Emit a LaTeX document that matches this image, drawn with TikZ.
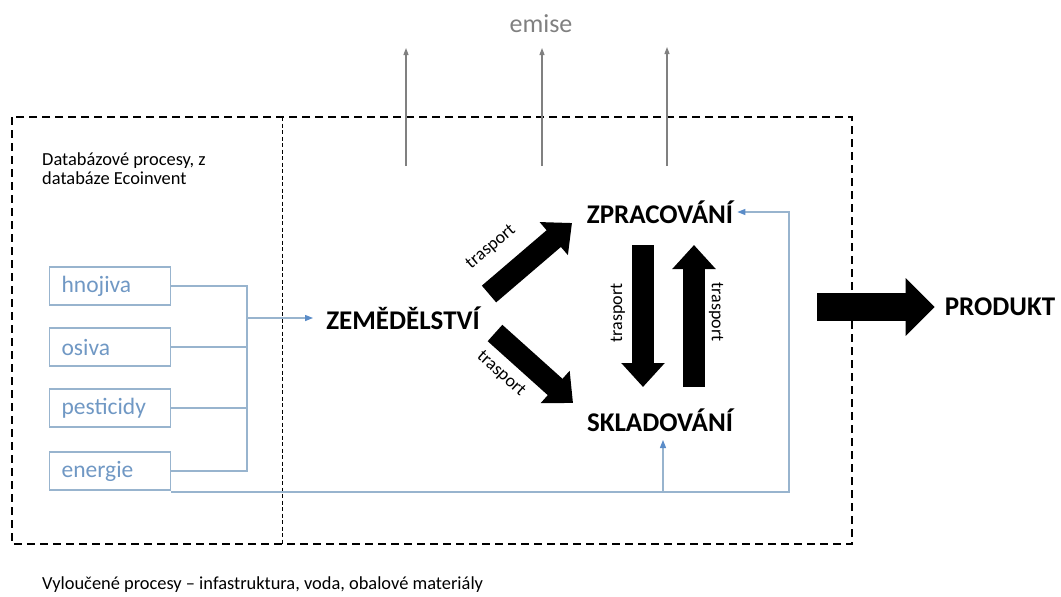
\documentclass[tikz,border=0pt]{standalone}
\usepackage{fontspec}
\setmainfont{Carlito}
\usepackage{tikz}
\usetikzlibrary{positioning}
\usetikzlibrary{arrows.meta,calc}

\definecolor{lineblue}{RGB}{152,180,206}
\definecolor{tipblue}{RGB}{90,140,200}
\definecolor{textblue}{RGB}{112,152,196}
\definecolor{emisgray}{RGB}{128,128,128}

\tikzset{
	inbox/.style={draw=lineblue, line width=1.2pt, anchor=west,
		minimum height=38pt, text width=97pt, inner xsep=12pt, inner ysep=0pt,
		align=left, text=textblue, font=\fontsize{23.5}{26}\selectfont},
	stage/.style={inner sep=0pt, font=\fontsize{27}{30}\selectfont\bfseries},
	wire/.style={draw=lineblue, line width=1.2pt},
	feed/.style={wire, -{Triangle[length=8pt,width=6pt,color=tipblue]}},
	block/.style={line width=22pt, -{Triangle[length=24pt,width=42pt]}},
	emis/.style={draw=emisgray, line width=1.1pt, -{Triangle[length=7pt,width=5pt]}},
	lbl/.style={inner sep=0pt, font=\fontsize{18}{20}\selectfont},
	note/.style={inner sep=0pt, anchor=west, align=left, font=\fontsize{18.4}{19}\selectfont}
}

\begin{document}
\begin{tikzpicture}[x=1pt, y=-1pt]
	\useasboundingbox (0,0) rectangle (1061,597);

	%System boundary
	\draw[line width=2pt, dash pattern=on 8pt off 5pt] (12,117) rectangle (852,544);
	\draw[line width=1pt, dash pattern=on 4pt off 2.5pt] (282,117) -- (282,544);

	\node[note] (Db) at (42,169) {Databázové procesy, z\\databáze Ecoinvent};
	\node[note] (Excl) at (42,585) {Vyloučené procesy – infastruktura, voda, obalové materiály};

	%Inputs
	\node[inbox] (Hno) at (49,286) {hnojiva};
	\node[inbox] (Osi) at (49,347) {osiva};
	\node[inbox] (Pes) at (49,408) {pesticidy};
	\node[inbox] (Ene) at (49,471) {energie};

	%Stages
	\node[stage] (Zem) at (403,318) {ZEMĚDĚLSTVÍ};
	\node[stage] (Zpr) at (660,212) {ZPRACOVÁNÍ};
	\node[stage] (Skl) at (660,420) {SKLADOVÁNÍ};
	\node[stage] (Prod) at (1000,307) {PRODUKT};

	%Input bus
	\coordinate (BusT) at (247,286);
	\coordinate (BusB) at (247,471);
	\coordinate (BusM) at (247,318);
	\draw[wire] (Hno.east) -- (BusT) -- (BusB) -- (Ene.east);
	\draw[wire] (Osi.east) -- (Osi.east -| BusT);
	\draw[wire] (Pes.east) -- (Pes.east -| BusT);
	\draw[feed] (BusM) -- ([xshift=-13pt]Zem.west);

	%Energy loop
	\coordinate (Loop) at (789,492);
	\coordinate (SklTip) at (663,440);
	\draw[feed] (Ene.south east |- Loop) -- (Loop) |- ([xshift=4pt]Zpr.east);
	\draw[feed] (SklTip |- Loop) -- (SklTip);

	%Transport arrows
	\coordinate (T1s) at (489,294);  \coordinate (T1e) at (572,223);
	\coordinate (T2s) at (495,333);  \coordinate (T2e) at (573,403);
	\coordinate (T3s) at (643,245);  \coordinate (T3e) at (643,387);
	\coordinate (T4s) at (694,387);  \coordinate (T4e) at (694,245);
	\draw[block] (T1s) -- (T1e);
	\draw[block] (T2s) -- (T2e);
	\draw[block] (T3s) -- (T3e);
	\draw[block] (T4s) -- (T4e);
	\node[lbl, rotate=40] (L1) at (491,247) {trasport};
	\node[lbl, rotate=-42] (L2) at (501,374) {trasport};
	\node[lbl, rotate=90] (L3) at (618,313) {trasport};
	\node[lbl, rotate=-90] (L4) at (716,312) {trasport};

	%Output
	\coordinate (Out) at (817,307);
	\draw[line width=28pt, -{Triangle[length=29pt,width=56pt]}] (Out) -- ([xshift=-10pt]Prod.west);

	%Emissions
	\node[text=emisgray, inner sep=0pt, font=\fontsize{26}{28}\selectfont] (Emise) at (541,24) {emise};
	\foreach \ex/\et in {406/48, 542/48, 667/47}{
		\draw[emis] (\ex,166) -- (\ex,\et);
	}
\end{tikzpicture}
\end{document}
